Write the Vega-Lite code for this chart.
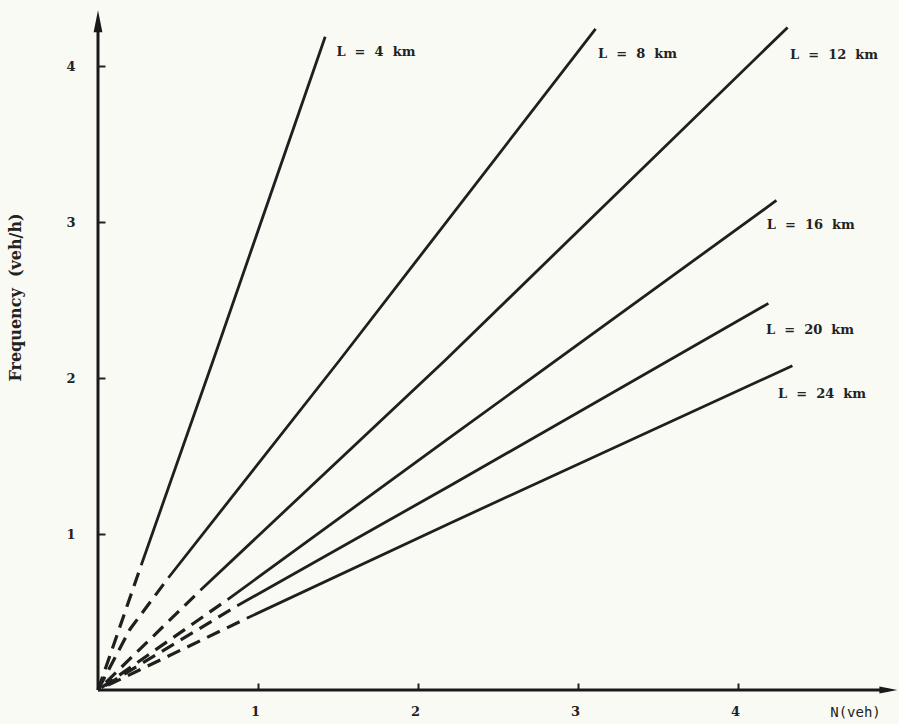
{
  "$schema": "https://vega.github.io/schema/vega-lite/v6.json",
  "width": 800,
  "height": 686,
  "autosize": {"type": "none"},
  "padding": {"left": 98, "top": 4, "right": 1, "bottom": 34},
  "background": "#fafaf4",
  "config": {"view": {"stroke": null}},
  "datasets": {
    "lines": [
      {"L": "4 km", "part": "solid", "N": 0.27, "F": 0.80},
      {"L": "4 km", "part": "solid", "N": 0.72, "F": 2.115},
      {"L": "4 km", "part": "solid", "N": 1.42, "F": 4.19},
      {"L": "4 km", "part": "dashed", "N": 0.27, "F": 0.80},
      {"L": "4 km", "part": "dashed", "N": 0.0, "F": 0.0},
      {"L": "8 km", "part": "solid", "N": 0.44, "F": 0.72},
      {"L": "8 km", "part": "solid", "N": 1.51, "F": 2.115},
      {"L": "8 km", "part": "solid", "N": 3.11, "F": 4.24},
      {"L": "8 km", "part": "dashed", "N": 0.44, "F": 0.72},
      {"L": "8 km", "part": "dashed", "N": 0.2, "F": 0.39},
      {"L": "8 km", "part": "dashed", "N": 0.0, "F": 0.0},
      {"L": "12 km", "part": "solid", "N": 0.64, "F": 0.64},
      {"L": "12 km", "part": "solid", "N": 2.17, "F": 2.115},
      {"L": "12 km", "part": "solid", "N": 4.31, "F": 4.25},
      {"L": "12 km", "part": "dashed", "N": 0.64, "F": 0.64},
      {"L": "12 km", "part": "dashed", "N": 0.0, "F": 0.0},
      {"L": "16 km", "part": "solid", "N": 0.81, "F": 0.58},
      {"L": "16 km", "part": "solid", "N": 2.2, "F": 1.62},
      {"L": "16 km", "part": "solid", "N": 4.24, "F": 3.14},
      {"L": "16 km", "part": "dashed", "N": 0.81, "F": 0.58},
      {"L": "16 km", "part": "dashed", "N": 0.0, "F": 0.0},
      {"L": "20 km", "part": "solid", "N": 0.87, "F": 0.54},
      {"L": "20 km", "part": "solid", "N": 2.2, "F": 1.31},
      {"L": "20 km", "part": "solid", "N": 4.19, "F": 2.48},
      {"L": "20 km", "part": "dashed", "N": 0.87, "F": 0.54},
      {"L": "20 km", "part": "dashed", "N": 0.0, "F": 0.0},
      {"L": "24 km", "part": "solid", "N": 0.93, "F": 0.46},
      {"L": "24 km", "part": "solid", "N": 2.2, "F": 1.07},
      {"L": "24 km", "part": "solid", "N": 4.34, "F": 2.08},
      {"L": "24 km", "part": "dashed", "N": 0.93, "F": 0.46},
      {"L": "24 km", "part": "dashed", "N": 0.0, "F": 0.0}
    ],
    "labels": [
      {"text": "L \u00a0= \u00a04 \u00a0km", "N": 1.49, "F": 4.09},
      {"text": "L \u00a0= \u00a08 \u00a0km", "N": 3.125, "F": 4.08},
      {"text": "L \u00a0= \u00a012 \u00a0km", "N": 4.325, "F": 4.07},
      {"text": "L \u00a0= \u00a016 \u00a0km", "N": 4.18, "F": 2.98},
      {"text": "L \u00a0= \u00a020 \u00a0km", "N": 4.175, "F": 2.31},
      {"text": "L \u00a0= \u00a024 \u00a0km", "N": 4.25, "F": 1.90}
    ]
  },
  "layer": [
    {
      "data": {"name": "lines"},
      "transform": [{"filter": "datum.part === 'solid'"}],
      "mark": {"type": "line", "color": "#1f1f1f", "strokeWidth": 2.8},
      "encoding": {
        "x": {
          "field": "N", "type": "quantitative",
          "scale": {"domain": [0, 5], "nice": false, "zero": false},
          "axis": {
            "values": [1, 2, 3, 4], "format": "d", "domain": false, "grid": false,
            "tickSize": -7, "tickWidth": 2, "tickColor": "#222",
            "labelFont": "DejaVu Serif", "labelFontWeight": "bold", "labelFontSize": 13, "labelColor": "#222",
            "labelPadding": 22, "labelOffset": -3,
            "title": "N(veh)", "titleFont": "DejaVu Sans Mono", "titleFontWeight": "normal", "titleFontSize": 14,
            "titleColor": "#222", "titleX": 757, "titleY": 22, "titleAlign": "center", "titleBaseline": "middle"
          }
        },
        "y": {
          "field": "F", "type": "quantitative",
          "scale": {"domain": [0, 4.4], "nice": false, "zero": false},
          "axis": {
            "values": [1, 2, 3, 4], "format": "d", "domain": false, "grid": false,
            "tickSize": -7, "tickWidth": 2, "tickColor": "#222",
            "labelFont": "DejaVu Serif", "labelFontWeight": "bold", "labelFontSize": 13, "labelColor": "#222",
            "labelPadding": 30,
            "title": "Frequency \u00a0(veh/h)", "titleFont": "DejaVu Serif", "titleFontWeight": "bold", "titleFontSize": 16,
            "titleColor": "#222", "titleX": -83, "titleY": 293, "titleAlign": "center", "titleBaseline": "middle", "titleAngle": -90
          }
        },
        "detail": {"field": "L"}
      }
    },
    {
      "data": {"name": "lines"},
      "transform": [{"filter": "datum.part === 'dashed'"}],
      "mark": {"type": "line", "color": "#1f1f1f", "strokeWidth": 3.2, "strokeDash": [14, 8], "strokeDashOffset": 14},
      "encoding": {
        "x": {"field": "N", "type": "quantitative"},
        "y": {"field": "F", "type": "quantitative"},
        "detail": {"field": "L"},
        "order": {"field": "N", "sort": "descending"}
      }
    },
    {
      "data": {"values": [{}]},
      "mark": {"type": "rule", "color": "#1a1a1a", "strokeWidth": 3},
      "encoding": {
        "x": {"datum": 0},
        "y": {"datum": 0},
        "y2": {"datum": 4.29}
      }
    },
    {
      "data": {"values": [{}]},
      "mark": {"type": "rule", "color": "#1a1a1a", "strokeWidth": 3},
      "encoding": {
        "y": {"datum": 0},
        "x": {"datum": 0},
        "x2": {"datum": 4.94}
      }
    },
    {
      "data": {"values": [{}]},
      "mark": {"type": "point", "shape": "M0,-1L0.4,1L-0.4,1Z", "size": 484, "filled": true, "color": "#1a1a1a", "opacity": 1},
      "encoding": {"x": {"datum": 0}, "y": {"datum": 4.29}}
    },
    {
      "data": {"values": [{}]},
      "mark": {"type": "point", "shape": "M1,0L-1,-0.4L-1,0.4Z", "size": 324, "filled": true, "color": "#1a1a1a", "opacity": 1},
      "encoding": {"x": {"datum": 4.94}, "y": {"datum": 0}}
    },
    {
      "data": {"name": "labels"},
      "mark": {"type": "text", "align": "left", "baseline": "middle", "font": "DejaVu Serif", "fontWeight": "bold", "fontSize": 13, "color": "#222"},
      "encoding": {
        "x": {"field": "N", "type": "quantitative"},
        "y": {"field": "F", "type": "quantitative"},
        "text": {"field": "text"}
      }
    }
  ]
}
